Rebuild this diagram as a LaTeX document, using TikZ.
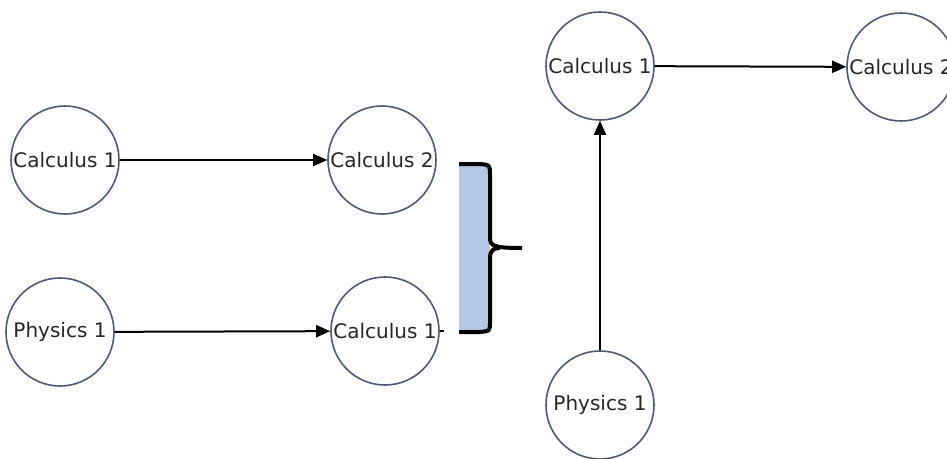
\documentclass[tikz,border=0pt]{standalone}
\usepackage{fontspec}
\setmainfont{DejaVu Sans}
\usetikzlibrary{arrows.meta}
\definecolor{ringcol}{HTML}{4F5A73}
\definecolor{bracefill}{HTML}{B4C7E7}
\begin{document}
\begin{tikzpicture}[x=1pt,y=-1pt,
  course/.style={circle,draw=ringcol,line width=1.6pt,minimum size=108pt,inner sep=0pt,font=\fontsize{20}{24}\selectfont,text=black!85},
  link/.style={line width=2pt,-{Triangle[length=14pt,width=12pt]}}]
\useasboundingbox (0,0) rectangle (947,458);
\node[course] (c1a) at (65,160) {Calculus 1};
\node[course] (c2a) at (382,160) {Calculus 2};
\node[course] (p1a) at (60,332) {Physics 1};
\node[course] (c1b) at (385,331) {Calculus 1};
\node[course] (c1r) at (600,66) {Calculus 1};
\node[course] (c2r) at (901,67) {Calculus 2};
\node[course] (p1r) at (600,405) {Physics 1};
\draw[link] (c1a) -- (c2a);
\draw[link] (p1a) -- (c1b);
\draw[link] (c1r) -- (c2r);
\draw[link] (p1r) -- (c1r);
\coordinate (stub) at (444,331);
\draw[line width=1.4pt] (c1b.east) -- (stub);
\fill[bracefill] (459,163) rectangle (490,333);
\draw[line width=4pt,line join=round]
  (459,164) -- (480,164) .. controls (490,165) .. (490,175) -- (490,238)
  .. controls (490,246) and (494,248) .. (522,248)
  (490,258) .. controls (490,250) and (494,248) .. (500,248)
  (490,258) -- (490,322)
  .. controls (490,331) .. (480,332) -- (459,332);
\end{tikzpicture}
\end{document}
